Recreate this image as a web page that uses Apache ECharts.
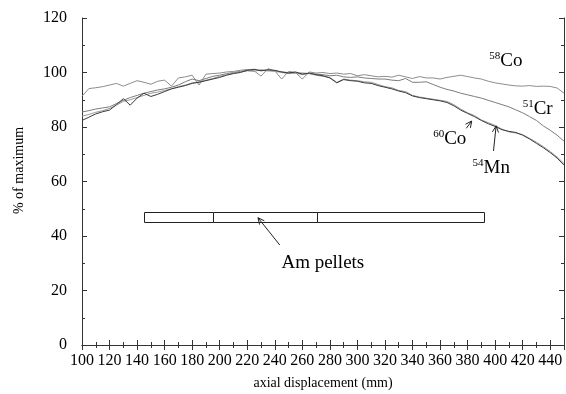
<!DOCTYPE html>
<html><head><meta charset="utf-8">
<script src="https://cdn.jsdelivr.net/npm/echarts@6/dist/echarts.min.js"></script>
<style>html,body{margin:0;padding:0;background:#fff}#c{width:566px;height:394px}</style>
</head><body><div id="c"></div>
<script>
// axial displacement (mm)
const xs = [100,105,110,115,120,125,130,135,140,145,150,155,160,165,170,175,180,185,190,195,
  200,205,210,215,220,225,230,235,240,245,250,255,260,265,270,275,280,285,290,295,
  300,305,310,315,320,325,330,335,340,345,350,355,360,365,370,375,380,385,390,395,
  400,405,410,415,420,425,430,435,440,445,450];
const co58 = [91.3,94.1,94.4,94.8,95.4,96.0,95.0,96.0,97.0,96.4,95.7,96.8,97.2,95.0,98.0,98.4,99.0,95.4,99.4,99.6,
  99.8,100.2,100.4,100.8,101.1,100.6,98.7,101.4,100.6,97.6,100.4,100.0,97.6,100.2,99.8,100.0,99.6,99.8,99.4,99.6,
  98.8,99.2,98.8,98.4,98.6,98.3,99.0,98.4,97.8,98.5,98.0,98.0,97.6,98.2,98.6,99.0,98.5,98.0,97.6,96.8,
  96.2,95.8,95.4,95.1,95.0,95.2,94.9,95.0,94.9,94.3,92.4];
const cr51 = [85.5,86.0,86.6,87.0,87.4,88.6,89.8,90.8,91.6,92.4,93.0,93.6,94.0,94.6,95.4,96.6,97.6,97.0,97.8,98.6,
  99.0,99.6,100.0,100.4,100.8,101.0,100.8,100.6,100.6,100.2,100.0,99.8,99.8,99.6,99.4,99.2,98.8,99.0,98.4,98.2,
  98.4,98.0,97.8,97.6,97.6,97.2,97.0,97.8,96.4,96.4,96.6,95.6,94.6,93.8,93.2,92.4,91.8,91.2,90.6,89.8,
  89.0,88.2,87.4,86.3,85.2,83.8,82.4,80.4,78.8,77.0,74.8];
const co60 = [84.0,84.6,85.4,86.0,86.8,88.0,89.4,90.0,90.8,91.6,92.4,92.8,93.4,94.0,94.8,95.4,96.2,96.6,97.2,97.8,
  98.6,99.2,99.8,100.2,100.6,100.4,101.0,100.8,100.4,100.0,99.6,99.8,99.2,99.6,99.0,98.6,98.2,96.4,97.6,97.2,
  97.0,96.6,96.4,95.6,94.8,94.4,93.4,93.0,91.6,91.0,90.6,90.2,89.8,89.4,88.2,86.6,85.2,84.2,82.6,81.6,
  80.6,79.2,78.2,77.8,77.2,75.8,74.4,72.8,71.0,69.0,66.6];
const mn54 = [82.4,83.6,84.8,85.6,86.2,88.2,90.4,88.0,90.6,92.4,91.2,92.0,93.0,94.0,94.6,95.2,96.0,96.4,97.0,97.6,
  98.2,99.0,99.6,100.0,100.8,101.2,100.6,101.0,100.8,100.2,99.8,100.2,99.4,99.8,99.2,98.8,98.0,96.2,97.4,97.0,
  96.8,96.2,96.0,95.2,94.6,94.0,93.2,92.6,91.4,90.8,90.4,90.0,89.6,89.0,87.8,86.2,85.0,83.8,82.4,81.2,
  80.2,79.0,78.4,78.0,77.0,75.6,74.0,72.4,70.6,68.6,66.0];
// Am pellet segments (mm) and band (% axis units)
const pelletSegments = [[145,195],[195,271],[271,392]];
const pelletBand = [45.3, 48.8];
// annotation texts and anchors
const annotations = [
  {sup:'58', main:'Co', at:[395.7,104.2]},
  {sup:'51', main:'Cr', at:[420,86.6]},
  {sup:'60', main:'Co', at:[355,75.6]},
  {sup:'54', main:'Mn', at:[383.6,65.0]},
  {sup:'', main:'Am pellets', at:[244.8,30.1]}
];
// arrows: tail x, tail y, tip x, tip y
const arrows = [[243.6,36.7,227.8,46.7],[379,79.5,383,82.2],[398.8,71.2,400.7,80.4]];

const F = 'Liberation Serif';
const chart = echarts.init(document.getElementById('c'));
const pair = a => xs.map((x,i)=>[x,a[i]]);
const lineS = (name, arr, color) => ({type:'line', name, data:pair(arr), symbol:'none', silent:true,
  lineStyle:{color, width:1}, z:3});
const axisBase = {
  axisLine:{show:true, lineStyle:{color:'#333', width:1}},
  axisTick:{show:true, inside:true, length:5, lineStyle:{color:'#333'}},
  minorTick:{show:true, splitNumber:2, length:3, lineStyle:{color:'#333'}},
  splitLine:{show:false}
};
chart.setOption({
  animation:false,
  grid:{left:82, right:2, top:18, bottom:49, containLabel:false, outerBoundsMode:'none'},
  xAxis:[
    Object.assign({type:'value', min:100, max:450, interval:20, position:'bottom',
      name:'axial displacement (mm)', nameLocation:'middle', nameGap:31,
      nameTextStyle:{fontFamily:F, fontSize:14, color:'#000'},
      axisLabel:{fontFamily:F, fontSize:16, color:'#000', margin:8, showMaxLabel:false}}, axisBase),
    Object.assign({type:'value', min:100, max:450, interval:20, position:'top',
      axisLabel:{show:false}}, axisBase)
  ],
  yAxis:[
    Object.assign({type:'value', min:0, max:120, interval:20, position:'left',
      name:'% of maximum', nameLocation:'middle', nameGap:56,
      nameTextStyle:{fontFamily:F, fontSize:14, color:'#000', padding:[0,0,0,22]},
      axisLabel:{fontFamily:F, fontSize:16, color:'#000', margin:15}}, axisBase),
    Object.assign({type:'value', min:0, max:120, interval:20, position:'right',
      axisLabel:{show:false}}, axisBase)
  ],
  series:[
    lineS('58Co', co58, '#8c8c8c'),
    lineS('51Cr', cr51, '#7c7c7c'),
    lineS('60Co', co60, '#9a9a9a'),
    lineS('54Mn', mn54, '#3a3a3a'),
    {type:'custom', name:'pellets', data:pelletSegments, silent:true, z:4,
      renderItem:(p, api)=>{
        const a = api.coord([api.value(0), pelletBand[1]]);
        const b = api.coord([api.value(1), pelletBand[0]]);
        return {type:'rect', shape:{x:Math.round(a[0])+0.5, y:Math.round(a[1])+0.5,
          width:Math.round(b[0]-a[0]), height:Math.round(b[1]-a[1])},
          style:{fill:'#fff', stroke:'#222', lineWidth:1}};
      }},
    {type:'custom', name:'arrows', data:arrows, silent:true, z:5,
      renderItem:(p, api)=>{
        const t = api.coord([api.value(0), api.value(1)]);
        const h = api.coord([api.value(2), api.value(3)]);
        const ang = Math.atan2(h[1]-t[1], h[0]-t[0]);
        const L = 7, w = 0.45;
        const h1 = [h[0]-L*Math.cos(ang-w), h[1]-L*Math.sin(ang-w)];
        const h2 = [h[0]-L*Math.cos(ang+w), h[1]-L*Math.sin(ang+w)];
        const st = {stroke:'#222', lineWidth:1, fill:null};
        return {type:'group', children:[
          {type:'line', shape:{x1:t[0],y1:t[1],x2:h[0],y2:h[1]}, style:st},
          {type:'polyline', shape:{points:[h1,h,h2]}, style:st}
        ]};
      }},
    {type:'custom', name:'labels', data:annotations.map(a=>a.at), silent:true, z:6,
      renderItem:(p, api)=>{
        const c = api.coord([api.value(0), api.value(1)]);
        const a = annotations[p.dataIndex];
        const txt = (a.sup ? '{s|'+a.sup+'}' : '') + '{m|'+a.main+'}';
        return {type:'text', x:c[0], y:c[1], style:{text:txt, align:'left', verticalAlign:'middle',
          rich:{s:{fontFamily:F, fontSize:11, fill:'#000', verticalAlign:'top', lineHeight:20},
                m:{fontFamily:F, fontSize:19, fill:'#000', lineHeight:20}}}};
      }}
  ]
});
</script></body></html>
